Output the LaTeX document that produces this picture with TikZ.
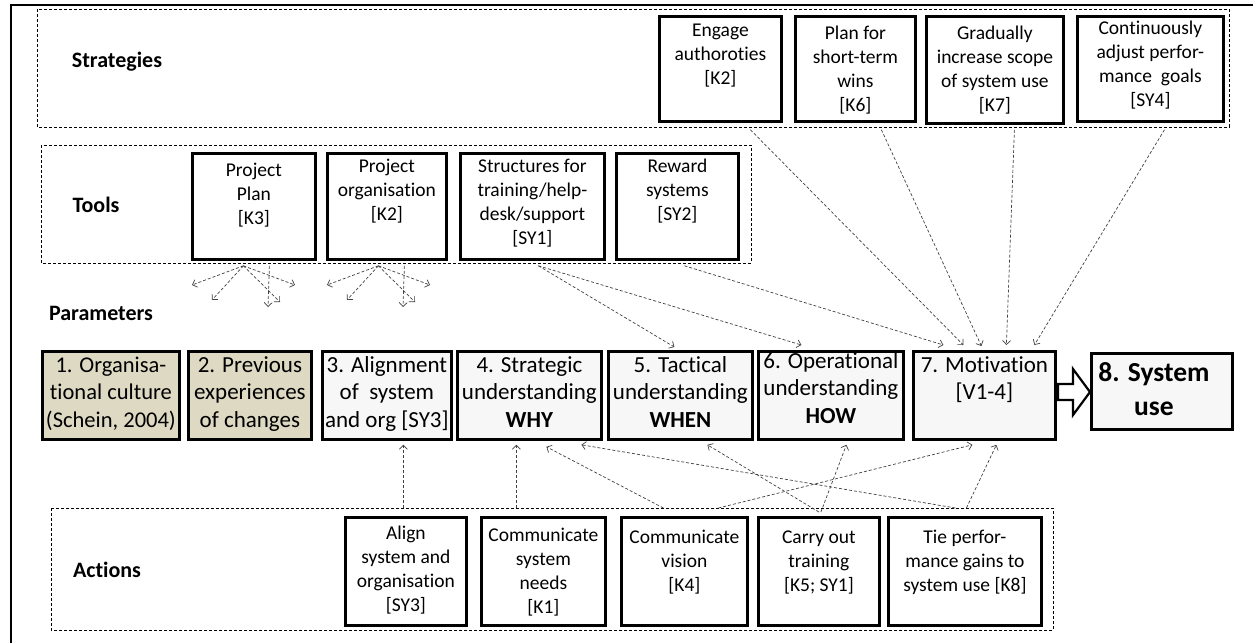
\documentclass[tikz,border=0pt]{standalone}
\usepackage{fontspec}
\setmainfont{Carlito}[Ligatures={NoCommon,NoRequired,NoContextual}]
\usetikzlibrary{arrows.meta,calc}
\definecolor{tanfill}{HTML}{DDD9C3}
\definecolor{lightfill}{HTML}{F7F7F7}
\definecolor{conncol}{HTML}{404040}
\tikzset{
  grp/.style={draw, dash pattern=on 3pt off 2pt, line width=0.7pt},
  sb/.style={draw, line width=2.8pt, fill=white, inner sep=0pt, anchor=north west},
  pb/.style={sb, fill=lightfill},
  tb/.style={sb, fill=tanfill},
  lab/.style={font=\fontsize{19.5}{24}\selectfont, align=center, anchor=north, inner sep=0pt},
  plab/.style={lab, font=\fontsize{23}{27.5}\selectfont},
  blab/.style={lab, font=\bfseries\fontsize{27.5}{34}\selectfont},
  glab/.style={font=\bfseries\fontsize{22}{26}\selectfont, inner sep=0pt},
  conn/.style={draw=conncol, line width=0.7pt, dash pattern=on 3pt off 2pt,
    -{Straight Barb[length=4pt,width=8pt]}},
}
\begin{document}
\begin{tikzpicture}[x=1pt,y=-1pt]
\useasboundingbox (0,0) rectangle (1253,643);
% outer frame (left and top edges)
\draw[line width=2pt] (11,643) -- (11,5) -- (1253,5);
% group boxes
\draw[grp] (37,9) rectangle (1229,127);
\draw[grp] (41,145) rectangle (751,263);
\draw[grp] (51,508) rectangle (1053,630);
% group labels
\node[glab] (lstr) at (117,62) {Strategies};
\node[glab] (ltool) at (96,205) {Tools};
\node[glab] (lpar) at (101,313) {Parameters};
\node[glab] (lact) at (107,570) {Actions};
% strategies
\node[sb, minimum width=122pt, minimum height=105pt,
  label={[lab, yshift=-4pt]north:\strut Engage\\authoroties\\{[K2]}}] (eng) at (658,15) {};
\node[sb, minimum width=120pt, minimum height=105pt,
  label={[lab, yshift=-7pt]north:\strut Plan for\\short-term\\wins\\{[K6]}}] (pln) at (794,15) {};
\node[sb, minimum width=137pt, minimum height=107pt,
  label={[lab, yshift=-7pt]north:\strut Gradually\\increase scope\\of system use\\{[K7]}}] (grd) at (925,15) {};
\node[sb, minimum width=146pt, minimum height=105pt,
  label={[lab, yshift=-2pt]north:\strut Continuously\\adjust perfor-\\mance\ \ goals\\{[SY4]}}] (cnt) at (1076,15) {};
% tools
\node[sb, minimum width=123pt, minimum height=106pt,
  label={[lab, yshift=-7pt]north:\strut Project\\Plan\\{[K3]}}] (tpl) at (191,152) {};
\node[sb, minimum width=119pt, minimum height=106pt,
  label={[lab, yshift=-3pt]north:\strut Project\\organisation\\{[K2]}}] (tor) at (326,152) {};
\node[sb, minimum width=144pt, minimum height=106pt,
  label={[lab, yshift=-3pt]north:\strut Structures for\\training/help-\\desk/support\\{[SY1]}}] (tst) at (459,152) {};
\node[sb, minimum width=122pt, minimum height=106pt,
  label={[lab, yshift=-3pt]north:\strut Reward\\systems\\{[SY2]}}] (trw) at (615,152) {};
% parameters
\node[tb, minimum width=137pt, minimum height=88pt,
  label={[plab, font=\fontsize{22.5}{27.5}\selectfont, yshift=-3pt]north:\strut 1. Organisa-\\tional culture\\(Schein, 2004)}] (p1) at (41,350) {};
\node[tb, minimum width=123pt, minimum height=88pt,
  label={[plab, yshift=-3pt]north:\strut 2. Previous\\experiences\\of changes}] (p2) at (187,350) {};
\node[pb, minimum width=129pt, minimum height=88pt,
  label={[plab, yshift=-3pt]north:\strut 3. Alignment\\of\ \ system\\and org {[SY3]}}] (p3) at (321,350) {};
\node[pb, minimum width=144pt, minimum height=88pt,
  label={[plab, yshift=-3pt]north:\strut 4. Strategic\\understanding\\\textbf{WHY}}] (p4) at (456,350) {};
\node[pb, minimum width=144pt, minimum height=88pt,
  label={[plab, yshift=-3pt]north:\strut 5. Tactical\\understanding\\\textbf{WHEN}}] (p5) at (607,350) {};
\node[pb, minimum width=145pt, minimum height=88pt,
  label={[plab, yshift=1pt]north:\strut 6. Operational\\understanding\\\textbf{HOW}}] (p6) at (757,350) {};
\node[pb, minimum width=142pt, minimum height=88pt,
  label={[plab, yshift=-3pt]north:\strut 7. Motivation\\{[V1-4]}}] (p7) at (912,350) {};
\node[pb, minimum width=141pt, minimum height=76pt,
  label={[blab, xshift=-8pt, yshift=-5pt]north:\strut 8. System\\use}] (p8) at (1090,352) {};
% block arrow 7 -> 8
\draw[line width=2.2pt, fill=white, line join=miter]
  (1058,384) -- (1073,384) -- (1073,369) -- (1090,392) -- (1073,415) -- (1073,400) -- (1058,400) -- cycle;
% actions
\node[sb, minimum width=121pt, minimum height=108pt,
  label={[lab, yshift=-6pt]north:\strut Align\\system and\\organisation\\{[SY3]}}] (aal) at (344,516) {};
\node[sb, minimum width=124pt, minimum height=108pt,
  label={[lab, yshift=-8pt]north:\strut Communicate\\system\\needs\\{[K1]}}] (acs) at (480,516) {};
\node[sb, minimum width=126pt, minimum height=108pt,
  label={[lab, yshift=-10pt]north:\strut Communicate\\vision\\{[K4]}}] (acv) at (620,516) {};
\node[sb, minimum width=121pt, minimum height=108pt,
  label={[lab, yshift=-10pt]north:\strut Carry out\\training\\{[K5; SY1]}}] (aco) at (757,516) {};
\node[sb, minimum width=153pt, minimum height=108pt,
  label={[lab, yshift=-10pt]north:\strut Tie perfor-\\mance gains to\\system use {[K8]}}] (ati) at (887,516) {};
% strategies -> motivation
\draw[conn] ([shift={(30,7)}]eng.south) -- ([shift={(-21,-5)}]p7.north);
\draw[conn] ([shift={(26,7)}]pln.south) -- ([shift={(-3,-4)}]p7.north);
\draw[conn] ([shift={(19.5,5)}]grd.south) -- ([shift={(22,-5)}]p7.north);
\draw[conn] ([shift={(14,7)}]cnt.south) -- ([shift={(50,-5)}]p7.north);
% tools -> parameters
\draw[conn] ([shift={(7,5)}]trw.south) -- ([shift={(-41,-5)}]p7.north);
\draw[conn] ([shift={(6,5)}]tst.south) -- ([shift={(-6,-3)}]p5.north);
\draw[conn] ([shift={(6,5)}]tst.south) -- ([shift={(-29.5,-5)}]p6.north);
% fans
\coordinate (fa1) at (192,285);
\coordinate (fa2) at (212,300);
\coordinate (fa3) at (280,302);
\coordinate (fa4) at (295,285);
\coordinate (fa5) at (268,307);
\coordinate (fb1) at (327,285);
\coordinate (fb2) at (347,300);
\coordinate (fb3) at (415,302);
\coordinate (fb4) at (430,285);
\coordinate (fb5) at (403,307);
\foreach \e in {fa1,fa2,fa3,fa4}
  \draw[conn] ([shift={(-10.5,5)}]tpl.south) -- (\e);
\draw[conn] ([shift={(15.5,5)}]tpl.south) -- (fa5);
\foreach \e in {fb1,fb2,fb3,fb4}
  \draw[conn] ([shift={(-8.5,5)}]tor.south) -- (\e);
\draw[conn] ([shift={(17.5,5)}]tor.south) -- (fb5);
% actions -> parameters
\draw[conn] ([shift={(-2.5,-8)}]aal.north) -- ([shift={(16.5,4)}]p3.south);
\draw[conn] ([shift={(-27,-8)}]acs.north) -- ([shift={(-13,4)}]p4.south);
\draw[conn] ([shift={(-21,-8)}]acv.north) -- ([shift={(17,6)}]p4.south);
\draw[conn] ([shift={(-9.5,-8)}]ati.north) -- ([shift={(52,4)}]p4.south);
\draw[conn] ([shift={(0,-4)}]aco.north) -- ([shift={(27,4)}]p5.south);
\draw[conn] ([shift={(2,-4)}]aco.north) -- ([shift={(15.5,4)}]p6.south);
\draw[conn] ([shift={(34,-8)}]acv.north) -- ([shift={(-12,4)}]p7.south);
\draw[conn] ([shift={(1.5,-8)}]ati.north) -- ([shift={(12,4)}]p7.south);
\end{tikzpicture}
\end{document}
